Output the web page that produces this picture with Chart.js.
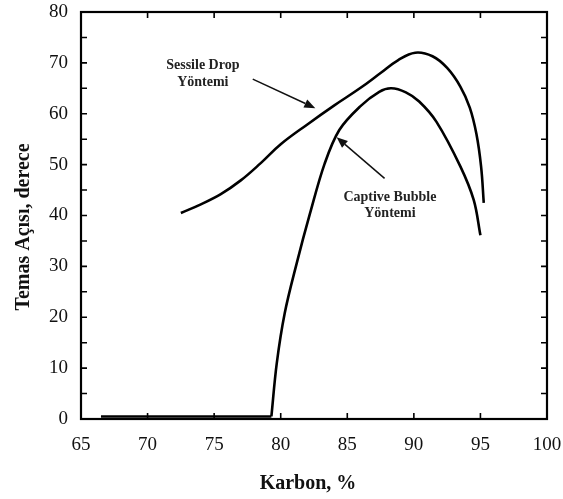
<!DOCTYPE html>
<html>
<head>
<meta charset="utf-8">
<script src="https://cdn.jsdelivr.net/npm/chart.js@4/dist/chart.umd.min.js"></script>
<style>
  html, body { margin: 0; padding: 0; background: #fff; }
  #wrap { width: 563px; height: 499px; position: relative; }
</style>
</head>
<body>
<div id="wrap"><canvas id="c" width="563" height="499"></canvas></div>
<script>
// ---- Data ----
const xTicks = [65, 70, 75, 80, 85, 90, 95, 100];
const yTicks = [0, 10, 20, 30, 40, 50, 60, 70, 80];

const sessileX = [72.5, 74.0, 75.5, 77.0, 78.5, 80.0, 82.0, 84.0, 86.0, 87.5, 88.8, 90.1, 91.4, 92.5, 93.5, 94.2, 94.7, 95.05, 95.25];
const sessileY = [40.5, 42.2, 44.2, 46.9, 50.3, 54.0, 57.9, 61.6, 65.1, 68.0, 70.5, 72.0, 71.3, 69.0, 65.3, 61.2, 56.0, 49.6, 42.5];

const captiveX = [79.3, 79.7, 80.3, 81.2, 82.2, 83.3, 84.4, 85.95, 87.4, 88.3, 89.4, 90.4, 91.7, 93.5, 94.5, 95.0];
const captiveY = [0.5, 10.9, 20.8, 30.6, 40.4, 50.2, 56.8, 61.4, 64.3, 65.0, 64.2, 62.4, 58.4, 49.6, 43.0, 36.1];

const baselineX = [66.5, 79.3];
const baselineY = [0.5, 0.5];

const seriesNames = ["Sessile Drop Yöntemi", "Captive Bubble Yöntemi"];
const xTitle = "Karbon, %";
const yTitle = "Temas Açısı, derece";

// annotation labels (text lines) and their anchor/arrow points in data units
const sessileLabel = ["Sessile Drop", "Yöntemi"];
const sessileLabelAt = [74.15, 69.5];
const sessileArrow = [[77.9, 66.8], [82.6, 61.1]];
const captiveLabel = ["Captive Bubble", "Yöntemi"];
const captiveLabelAt = [88.2, 43.6];
const captiveArrow = [[87.8, 47.3], [84.2, 55.4]];

const toPts = (xs, ys) => xs.map((x, i) => ({ x: x, y: ys[i] }));

const frameAndDecor = {
  id: 'frameAndDecor',
  afterDatasetsDraw(chart) {
    const ctx = chart.ctx;
    const a = chart.chartArea;
    const xs = chart.scales.x, ys = chart.scales.y;
    ctx.save();
    // frame
    ctx.strokeStyle = '#000';
    ctx.lineWidth = 2.2;
    ctx.strokeRect(a.left, a.top, a.right - a.left, a.bottom - a.top);
    // inward ticks
    ctx.lineWidth = 1.6;
    ctx.beginPath();
    for (let v = 70; v < 100; v += 5) {
      const px = xs.getPixelForValue(v);
      ctx.moveTo(px, a.bottom); ctx.lineTo(px, a.bottom - 6);
      ctx.moveTo(px, a.top); ctx.lineTo(px, a.top + 6);
    }
    for (let v = 5; v < 80; v += 5) {
      const py = ys.getPixelForValue(v);
      ctx.moveTo(a.left, py); ctx.lineTo(a.left + 6, py);
      ctx.moveTo(a.right, py); ctx.lineTo(a.right - 6, py);
    }
    ctx.stroke();

    // annotation text
    ctx.fillStyle = '#222';
    ctx.font = 'bold 14px "Liberation Serif", serif';
    ctx.textAlign = 'center';
    ctx.textBaseline = 'middle';
    const drawLabel = (lines, at) => {
      const cx = xs.getPixelForValue(at[0]);
      const cy = ys.getPixelForValue(at[1]);
      lines.forEach((t, i) => ctx.fillText(t, cx, cy + i * 16.5));
    };
    drawLabel(sessileLabel, sessileLabelAt);
    drawLabel(captiveLabel, captiveLabelAt);

    // arrows
    const drawArrow = (arr) => {
      const x1 = xs.getPixelForValue(arr[0][0]), y1 = ys.getPixelForValue(arr[0][1]);
      const x2 = xs.getPixelForValue(arr[1][0]), y2 = ys.getPixelForValue(arr[1][1]);
      const ang = Math.atan2(y2 - y1, x2 - x1);
      const L = 11, W = 4.5;
      const bx = x2 - L * Math.cos(ang), by = y2 - L * Math.sin(ang);
      ctx.strokeStyle = '#111';
      ctx.lineWidth = 1.5;
      ctx.beginPath();
      ctx.moveTo(x1, y1); ctx.lineTo(bx, by);
      ctx.stroke();
      ctx.fillStyle = '#111';
      ctx.beginPath();
      ctx.moveTo(x2, y2);
      ctx.lineTo(bx + W * Math.sin(ang), by - W * Math.cos(ang));
      ctx.lineTo(bx - W * Math.sin(ang), by + W * Math.cos(ang));
      ctx.closePath();
      ctx.fill();
    };
    drawArrow(sessileArrow);
    drawArrow(captiveArrow);

    // axis titles
    ctx.fillStyle = '#111';
    ctx.font = 'bold 20px "Liberation Serif", serif';
    ctx.textAlign = 'center';
    ctx.textBaseline = 'middle';
    ctx.fillText(xTitle, 308, 484);
    ctx.save();
    ctx.translate(24, 227);
    ctx.rotate(-Math.PI / 2);
    ctx.fillText(yTitle, 0, 0);
    ctx.restore();
    ctx.restore();
  }
};

const lineStyle = { borderColor: '#000', borderWidth: 2.6, pointRadius: 0, showLine: true, fill: false };

const noPad = (s) => { s.paddingTop = 0; s.paddingBottom = 0; s.paddingLeft = 0; s.paddingRight = 0; };

new Chart(document.getElementById('c'), {
  type: 'scatter',
  data: {
    datasets: [
      Object.assign({ label: seriesNames[0], data: toPts(sessileX, sessileY), tension: 0.4 }, lineStyle),
      Object.assign({ label: seriesNames[1], data: toPts(captiveX, captiveY), tension: 0.35 }, lineStyle),
      Object.assign({ label: seriesNames[1] + ' (0)', data: toPts(baselineX, baselineY), tension: 0 }, lineStyle)
    ]
  },
  options: {
    responsive: false,
    animation: false,
    layout: { padding: { top: 12, right: 16, left: 0, bottom: 0 } },
    plugins: { legend: { display: false }, tooltip: { enabled: false } },
    scales: {
      x: {
        type: 'linear', min: 65, max: 100,
        afterBuildTicks: (s) => { s.ticks = xTicks.map(v => ({ value: v })); },
        afterFit: (s) => { s.height = 80; noPad(s); },
        grid: { display: false, drawTicks: false },
        border: { display: false },
        ticks: { color: '#111', padding: 15, maxRotation: 0, font: { family: '"Liberation Serif", serif', size: 19 } }
      },
      y: {
        type: 'linear', min: 0, max: 80,
        afterBuildTicks: (s) => { s.ticks = yTicks.map(v => ({ value: v })); },
        afterFit: (s) => { s.width = 81; noPad(s); },
        grid: { display: false, drawTicks: false },
        border: { display: false },
        ticks: { color: '#111', padding: 13, font: { family: '"Liberation Serif", serif', size: 19 } }
      }
    }
  },
  plugins: [frameAndDecor]
});
</script>
</body>
</html>
